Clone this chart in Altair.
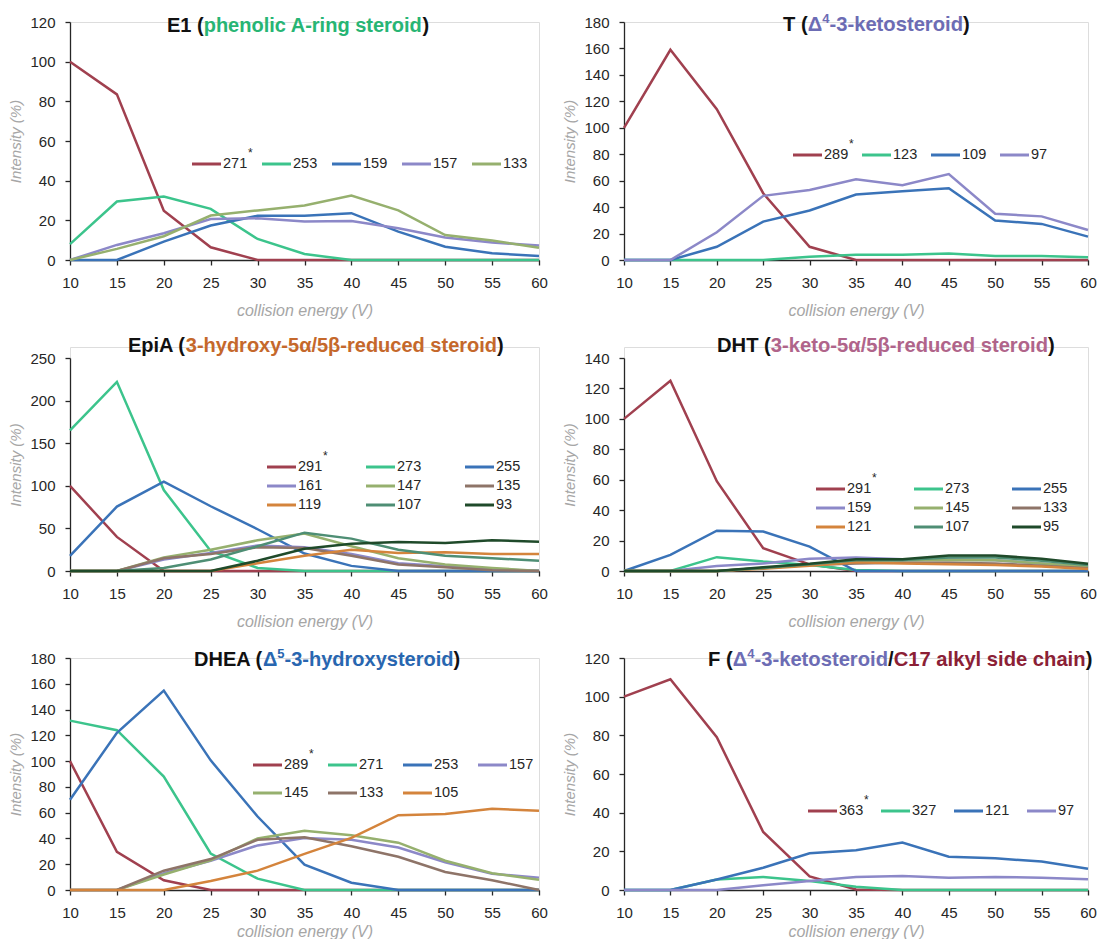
import altair as alt
import pandas as pd

CE = [10, 15, 20, 25, 30, 35, 40, 45, 50, 55, 60]

# ---------------- data ----------------
e1_ions = ["271", "253", "159", "157", "133"]
e1_271 = [100, 83.5, 24.8, 6.4, 0, 0, 0, 0, 0, 0, 0]
e1_253 = [8, 29.5, 32, 25.8, 10.6, 3, 0, 0, 0, 0, 0]
e1_159 = [0, 0, 9.3, 17.4, 22.3, 22.3, 23.6, 14.3, 6.7, 3.4, 2]
e1_157 = [0, 7.6, 13.5, 20.7, 21, 19.4, 19.7, 16, 11.3, 8.8, 7.3]
e1_133 = [0, 5.6, 12, 22.4, 25, 27.5, 32.5, 25, 12.6, 9.8, 6.2]

t_ions = ["289", "123", "109", "97"]
t_289 = [100, 159, 114, 50.5, 10, 0, 0, 0, 0, 0, 0]
t_123 = [0, 0, 0, 0, 2.5, 4, 4, 5, 3, 3, 2]
t_109 = [0, 0, 10, 29, 37.4, 49.5, 52, 54.3, 29.8, 27.3, 17.7]
t_97 = [0, 0, 21, 48.5, 53, 61, 56.5, 65, 35, 33, 22.7]

epia_ions = ["291", "273", "255", "161", "147", "135", "119", "107", "93"]
epia_291 = [100, 40, 0, 0, 0, 0, 0, 0, 0, 0, 0]
epia_273 = [165, 222, 95, 23.6, 3.5, 0, 0, 0, 0, 0, 0]
epia_255 = [17.7, 75.6, 105, 76, 49, 20.5, 6, 0, 0, 0, 0]
epia_161 = [0, 0, 13.6, 21, 30, 28, 20, 9, 5.6, 2, 0]
epia_147 = [0, 0, 16, 25, 36, 44, 29, 15, 7.6, 3.6, 0]
epia_135 = [0, 0, 15, 20, 28, 27, 18, 7.6, 4.4, 1, 0]
epia_119 = [0, 0, 0, 0, 9, 18, 25, 21, 22, 20, 20]
epia_107 = [0, 0, 3.6, 13.6, 29, 45, 38, 25, 18, 15, 12]
epia_93 = [0, 0, 0, 0, 12, 26, 32, 34, 33, 36, 34.4]

dht_ions = ["291", "273", "255", "159", "145", "133", "121", "107", "95"]
dht_291 = [100, 125, 59, 15, 4.4, 0, 0, 0, 0, 0, 0]
dht_273 = [0, 0, 9.1, 6.2, 4, 0.7, 0, 0, 0, 0, 0]
dht_255 = [0, 10.6, 26.5, 26, 16, 0, 0, 0, 0, 0, 0]
dht_159 = [0, 0, 3.3, 5, 8, 8.9, 7.8, 7.5, 7, 5, 2.5]
dht_145 = [0, 0, 0, 2, 4, 6.7, 6.9, 7.3, 7, 5, 2.9]
dht_133 = [0, 0, 0, 2, 4, 5, 5.5, 5.5, 5, 3.5, 1.8]
dht_121 = [0, 0, 0, 1.5, 3.5, 5.8, 5, 4.4, 4, 2.9, 1.3]
dht_107 = [0, 0, 0, 2, 4.5, 7, 7.3, 8.9, 8.9, 6.7, 4]
dht_95 = [0, 0, 0, 2.4, 4.7, 7.8, 7.8, 10.2, 10.2, 8, 4.7]

dhea_ions = ["289", "271", "253", "157", "145", "133", "105"]
dhea_289 = [100, 29.6, 7.6, 0, 0, 0, 0, 0, 0, 0, 0]
dhea_271 = [131.4, 124, 88, 28.3, 8.8, 0, 0, 0, 0, 0, 0]
dhea_253 = [70, 122, 154.7, 100.6, 57, 19.7, 5.6, 0, 0, 0, 0]
dhea_157 = [0, 0, 13, 22.7, 34.6, 40.4, 39, 33, 21.5, 12.6, 9.6]
dhea_145 = [0, 0, 12, 23, 40, 46, 42.5, 36.7, 22.7, 13, 8]
dhea_133 = [0, 0, 15, 24, 39, 41, 34, 25.8, 14, 7.6, 0]
dhea_105 = [0, 0, 0, 7, 15, 28, 40.4, 58, 59, 63, 61.4]

f_ions = ["363", "327", "121", "97"]
f_363 = [100, 109, 79, 30, 7, 0.3, 0, 0, 0, 0, 0]
f_327 = [0, 0, 5.4, 6.7, 4.7, 1.7, 0, 0, 0, 0, 0]
f_121 = [0, 0, 5.4, 11.5, 19, 20.6, 24.5, 17.2, 16.4, 14.7, 11]
f_97 = [0, 0, 0, 2.4, 4.7, 6.7, 7.3, 6.4, 6.7, 6.4, 5.6]

# ---------------- styles ----------------
RED, GREEN, BLUE, LAV = "#A0404F", "#3CC48C", "#3A73B8", "#8C88C8"
OLIVE, BROWN, ORANGE, TEAL, DKGREEN = "#96B06E", "#8E7468", "#D4843C", "#4E8E74", "#1F4A2A"
NINE = [RED, GREEN, BLUE, LAV, OLIVE, BROWN, ORANGE, TEAL, DKGREEN]
K = "#111111"
PURP = "#6C6CB4"
FONT = "Liberation Sans, Arial, sans-serif"
AXC = "#262626"
GRAY = "#A6A6A6"

# Arial/Liberation Sans Bold advance widths (per 1000 em)
ADV = {" ": 278, "(": 333, ")": 333, "-": 333, "/": 278,
       "A": 722, "C": 722, "D": 722, "E": 667, "F": 611, "H": 722, "T": 611,
       "a": 556, "b": 611, "c": 556, "d": 611, "e": 556, "f": 333, "g": 611,
       "h": 611, "i": 278, "j": 278, "k": 556, "l": 278, "m": 889, "n": 611,
       "o": 611, "p": 611, "q": 611, "r": 389, "s": 556, "t": 333, "u": 611,
       "v": 556, "w": 778, "x": 556, "y": 556, "z": 500,
       "Δ": 722, "α": 611, "β": 611}
for d in "0123456789":
    ADV[d] = 556


def twidth(s, size):
    return sum(ADV.get(ch, 556) for ch in s) * size / 1000.0


def one():
    return pd.DataFrame({"a": [0]})


def panel(ions, series, colors, ymax, ystep, width, height, top,
          title_parts, tx, ty, lx0, ldx, lys, ncols, xtp=12):
    rows = []
    for ion, vals, c in zip(ions, series, colors):
        for x, v in zip(CE, vals):
            rows.append({"ce": x, "val": v, "ion": ion, "col": c})
    df = pd.DataFrame(rows)

    xaxis = alt.Axis(values=CE, title="collision energy (V)", grid=False,
                     tickSize=5, labelPadding=10, titlePadding=xtp,
                     labelFontSize=15, titleFontSize=16, titleFontStyle="italic",
                     titleFontWeight="normal", titleColor=GRAY, labelColor=AXC,
                     domainColor=AXC, tickColor=AXC, domainWidth=1.3, tickWidth=1.3,
                     labelFont=FONT, titleFont=FONT, labelFlush=False,
                     labelOverlap=False)
    yaxis = alt.Axis(values=list(range(0, ymax + 1, ystep)), title="Intensity (%)",
                     grid=False, tickSize=5, labelPadding=10, titlePadding=6,
                     labelFontSize=15, titleFontSize=15, titleFontStyle="italic",
                     titleFontWeight="normal", titleColor=GRAY, labelColor=AXC,
                     domainColor=AXC, tickColor=AXC, domainWidth=1.3, tickWidth=1.3,
                     labelFont=FONT, titleFont=FONT, labelOverlap=False)

    lines = alt.Chart(df).mark_line(strokeWidth=2.5).encode(
        x=alt.X("ce:Q", scale=alt.Scale(domain=[10, 60], nice=False), axis=xaxis),
        y=alt.Y("val:Q", scale=alt.Scale(domain=[0, ymax], nice=False,
                                         range=[height, top]), axis=yaxis),
        color=alt.Color("col:N", scale=None),
        detail="ion:N",
    )
    layers = [lines]

    # title: coloured segments placed side by side
    cx = tx
    for txt, col, size, dy in title_parts:
        layers.append(
            alt.Chart(one()).mark_text(text=txt, align="left", baseline="middle",
                                       font=FONT, fontWeight="bold", fontSize=size,
                                       color=col)
            .encode(x=alt.value(cx), y=alt.value(ty + dy)))
        cx += twidth(txt, size)

    # legend
    for i, (ion, c) in enumerate(zip(ions, colors)):
        r, cc = divmod(i, ncols)
        x0 = lx0 + cc * ldx
        y0 = lys[r]
        layers.append(
            alt.Chart(one()).mark_rule(strokeWidth=3, color=c)
            .encode(x=alt.value(x0), x2=alt.value(x0 + 29), y=alt.value(y0)))
        layers.append(
            alt.Chart(one()).mark_text(text=ion, align="left", baseline="middle",
                                       font=FONT, fontSize=14.5, color=AXC)
            .encode(x=alt.value(x0 + 31), y=alt.value(y0)))
        if i == 0:
            layers.append(
                alt.Chart(one()).mark_text(text="*", align="left", baseline="middle",
                                           font=FONT, fontSize=12, color=AXC)
                .encode(x=alt.value(x0 + 31 + 25), y=alt.value(y0 - 11)))

    return alt.layer(*layers).properties(width=width, height=height)


S = 20     # title size (left column)
SR = 20.2  # title size (right column)
UP = -6    # superscript raise
LW = 469   # left-column plot width
RW = 464   # right-column plot width

p1 = panel(e1_ions, [e1_271, e1_253, e1_159, e1_157, e1_133],
           [RED, GREEN, BLUE, LAV, OLIVE], 120, 20, LW, 238, 0,
           [("E1 (", K, S, 0), ("phenolic A-ring steroid", "#27B574", S, 0), (")", K, S, 0)],
           97, 4, 122, 70, [142], 5)
p2 = panel(t_ions, [t_289, t_123, t_109, t_97],
           [RED, GREEN, BLUE, LAV], 180, 20, RW, 238, 0,
           [("T (", K, SR, 0), ("Δ", PURP, SR, 0), ("4", PURP, 13, UP),
            ("-3-ketosteroid", PURP, SR, 0), (")", K, SR, 0)],
           159, 3, 169, 69, [133], 4)
p3 = panel(epia_ions, [epia_291, epia_273, epia_255, epia_161, epia_147,
                       epia_135, epia_119, epia_107, epia_93],
           NINE, 250, 50, LW, 224, 11,
           [("EpiA (", K, S, 0), ("3-hydroxy-5α/5β-reduced steroid", "#C5682B", S, 0),
            (")", K, S, 0)],
           58, -1, 197, 99, [120, 139, 158], 3)
p4 = panel(dht_ions, [dht_291, dht_273, dht_255, dht_159, dht_145,
                      dht_133, dht_121, dht_107, dht_95],
           NINE, 140, 20, RW, 224, 11,
           [("DHT (", K, SR, 0), ("3-keto-5α/5β-reduced steroid", "#B0648A", SR, 0),
            (")", K, SR, 0)],
           93, -1, 192, 98, [142, 161, 180], 3)
p5 = panel(dhea_ions, [dhea_289, dhea_271, dhea_253, dhea_157, dhea_145,
                       dhea_133, dhea_105],
           [RED, GREEN, BLUE, LAV, OLIVE, BROWN, ORANGE], 180, 20, LW, 232, 0,
           [("DHEA (", K, S, 0), ("Δ", "#2866B0", S, 0), ("5", "#2866B0", 13, UP),
            ("-3-hydroxysteroid", "#2866B0", S, 0), (")", K, S, 0)],
           124, 2, 183, 75, [107, 135], 4, xtp=3)
p6 = panel(f_ions, [f_363, f_327, f_121, f_97],
           [RED, GREEN, BLUE, LAV], 120, 20, RW, 232, 0,
           [("F (", K, SR, 0), ("Δ", PURP, SR, 0), ("4", PURP, 13, UP),
            ("-3-ketosteroid", PURP, SR, 0), ("/", K, SR, 0),
            ("C17 alkyl side chain", "#8B2035", SR, 0), (")", K, SR, 0)],
           84, 2, 184, 73, [153], 4, xtp=3)

chart = alt.concat(p1, p2, p3, p4, p5, p6, columns=2,
                   spacing={"row": 87, "column": 85}).properties(
    bounds="flush", align="each",
    padding={"left": 0, "top": 4, "right": 0, "bottom": -1},
).configure_view(stroke=None).configure(background="white")

chart.save("out.html", embed_options={"renderer": "svg", "actions": False})
